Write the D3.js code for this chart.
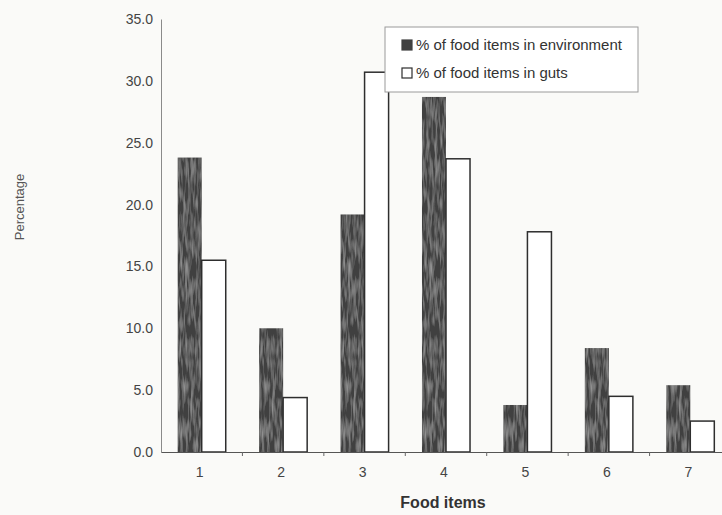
<!DOCTYPE html>
<html>
<head>
<meta charset="utf-8">
<script src="https://cdn.jsdelivr.net/npm/d3@7"></script>
<style>
  body { margin: 0; background: #fafaf8; }
  svg { display: block; font-family: "Liberation Sans", Arial, sans-serif; }
</style>
</head>
<body>
<svg id="chart" width="722" height="515"></svg>
<script>
// Food item categories and the two percentage series
const categories = ["1", "2", "3", "4", "5", "6", "7"];
const seriesNames = ["% of food items in environment", "% of food items in guts"];
const environment = [23.8, 10.0, 19.2, 28.7, 3.8, 8.4, 5.4];
const guts = [15.5, 4.4, 30.7, 23.7, 17.8, 4.5, 2.5];
const yTicks = [0, 5, 10, 15, 20, 25, 30, 35];

const rows = categories.map((c, i) => ({ cat: c, values: [environment[i], guts[i]] }));

const svg = d3.select("#chart");

// Fine streaky texture for the dark bars
const defs = svg.append("defs");
const f = defs.append("filter").attr("id", "grain")
  .attr("x", 0).attr("y", 0).attr("width", 1).attr("height", 1);
f.append("feTurbulence").attr("type", "fractalNoise")
  .attr("baseFrequency", "0.38 0.05").attr("numOctaves", 2).attr("seed", 7).attr("result", "n");
f.append("feColorMatrix").attr("in", "n").attr("type", "matrix")
  .attr("values", "0 0 0 0 1  0 0 0 0 1  0 0 0 0 1  0.55 0 0 0 -0.22").attr("result", "spots");
f.append("feComposite").attr("in", "spots").attr("in2", "SourceGraphic").attr("operator", "in").attr("result", "s2");
const fm = f.append("feMerge");
fm.append("feMergeNode").attr("in", "SourceGraphic");
fm.append("feMergeNode").attr("in", "s2");

const x0 = d3.scaleBand().domain(categories).range([161, 731])
  .paddingInner(0.41).paddingOuter(0.205);
const x1 = d3.scaleBand().domain([0, 1]).range([0, x0.bandwidth()]);
const y = d3.scaleLinear().domain([0, 35]).range([452, 19]);

// Y axis
const yAxis = svg.append("g").attr("transform", "translate(161,0)")
  .call(d3.axisLeft(y).tickValues(yTicks).tickFormat(d3.format(".1f")).tickSize(0).tickPadding(8));
yAxis.select(".domain").attr("stroke", "#8a8a8a").attr("stroke-width", 1);
yAxis.selectAll("text").attr("font-size", 14).attr("fill", "#444")
  .attr("font-family", "'Liberation Sans', Arial, sans-serif");

// Bars
const groups = svg.append("g").selectAll("g").data(rows).join("g")
  .attr("transform", d => `translate(${x0(d.cat)},0)`);

groups.selectAll("rect").data(d => d.values.map((v, k) => ({ k, v }))).join("rect")
  .attr("x", d => x1(d.k))
  .attr("y", d => y(d.v))
  .attr("width", x1.bandwidth())
  .attr("height", d => y(0) - y(d.v))
  .attr("fill", d => d.k === 0 ? "#404040" : "#ffffff")
  .attr("stroke", d => d.k === 0 ? "none" : "#2e2e2e")
  .attr("stroke-width", 1.5)
  .attr("filter", d => d.k === 0 ? "url(#grain)" : null);

// X axis
const xAxis = svg.append("g").attr("transform", "translate(0,452)")
  .call(d3.axisBottom(x0).tickSize(0).tickPadding(15));
xAxis.select(".domain").attr("stroke", "#555").attr("stroke-width", 1.2);
xAxis.selectAll("text").attr("font-size", 14).attr("fill", "#444").attr("dx", -2)
  .attr("font-family", "'Liberation Sans', Arial, sans-serif");
// small marks between the groups
const step = x0.step();
svg.append("g").selectAll("line").data(categories.slice(1)).join("line")
  .attr("x1", d => x0(d) - step * x0.paddingInner() / 2)
  .attr("x2", d => x0(d) - step * x0.paddingInner() / 2)
  .attr("y1", 452).attr("y2", 456)
  .attr("stroke", "#666").attr("stroke-width", 1);

// Axis titles
svg.append("text").attr("transform", "translate(24,207) rotate(-90)")
  .attr("text-anchor", "middle").attr("font-size", 13).attr("fill", "#555")
  .text("Percentage");
svg.append("text").attr("x", 443).attr("y", 508)
  .attr("text-anchor", "middle").attr("font-size", 16).attr("font-weight", "bold").attr("fill", "#333")
  .text("Food items");

// Legend
const legend = svg.append("g").attr("transform", "translate(385,27)");
legend.append("rect").attr("width", 253).attr("height", 65)
  .attr("fill", "#ffffff").attr("stroke", "#9a9a9a").attr("stroke-width", 1);
seriesNames.forEach((name, k) => {
  const row = legend.append("g").attr("transform", `translate(17,${13 + k * 28})`);
  row.append("rect").attr("width", 10).attr("height", 10)
    .attr("fill", k === 0 ? "#404040" : "#ffffff")
    .attr("stroke", k === 0 ? "#404040" : "#2e2e2e").attr("stroke-width", 1.2);
  row.append("text").attr("x", 14).attr("y", 5).attr("dy", "0.35em")
    .attr("font-size", 15).attr("fill", "#333").text(name);
});
</script>
</body>
</html>
